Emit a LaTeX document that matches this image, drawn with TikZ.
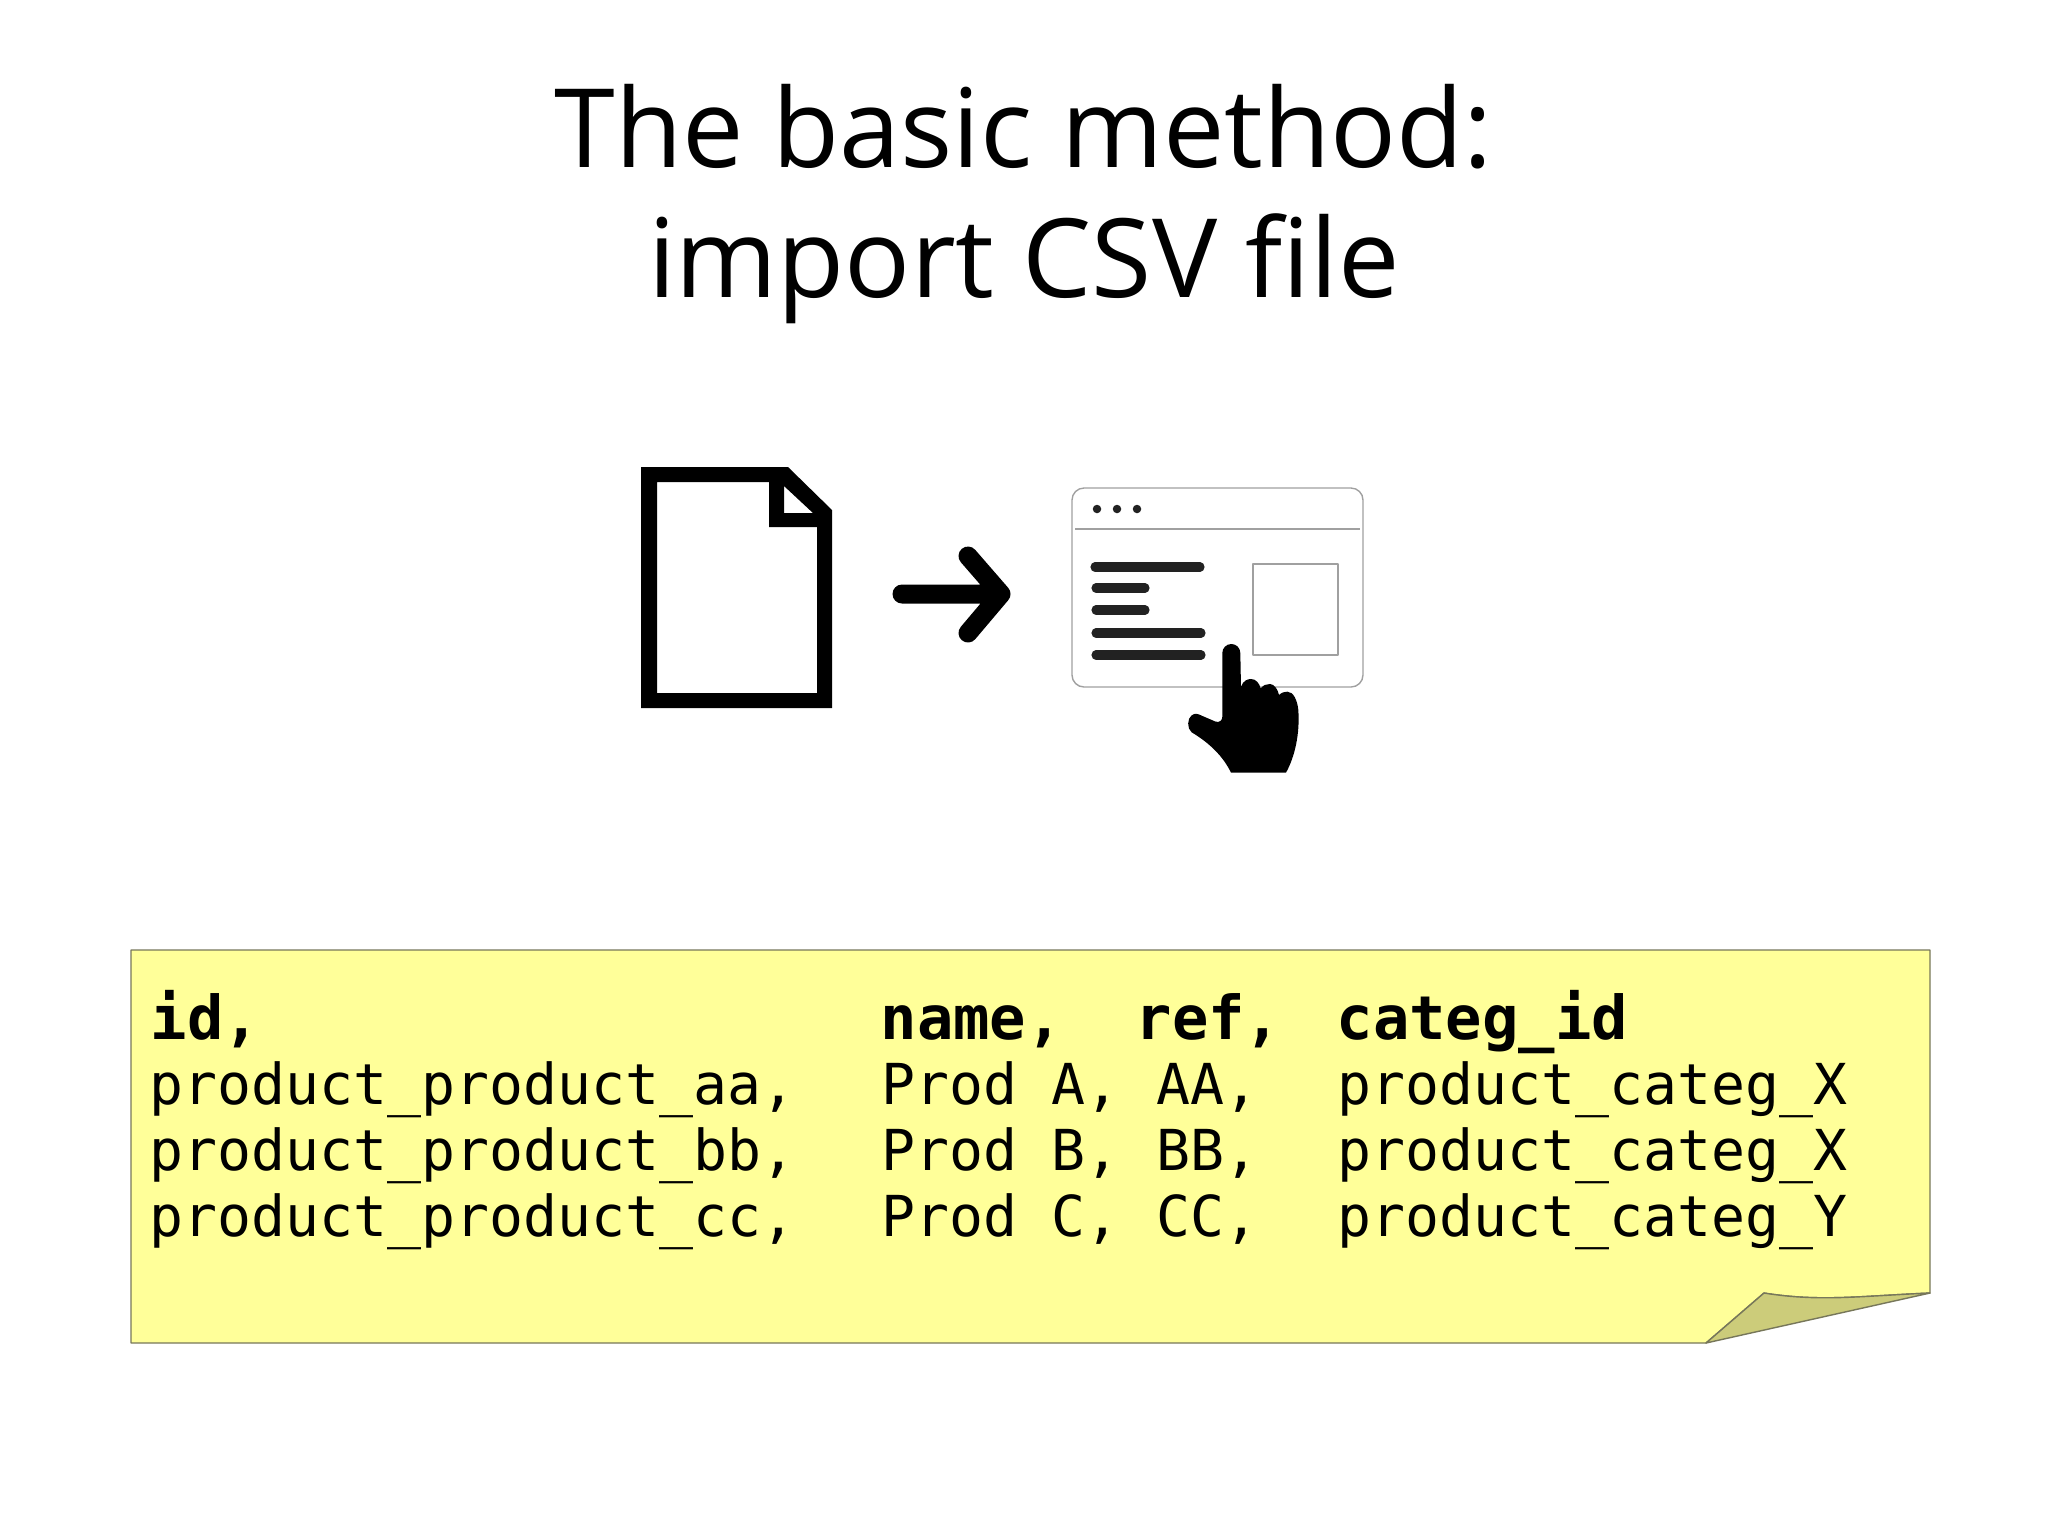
\documentclass[tikz,border=0pt]{standalone}
\usepackage{fontspec}
\setmainfont{Open Sans}
\setmonofont{DejaVu Sans Mono}
\definecolor{noteyellow}{HTML}{FFFF99}
\definecolor{notefold}{HTML}{CCCC7A}
\definecolor{noteline}{HTML}{77775A}
\definecolor{framegray}{HTML}{A0A0A0}
\definecolor{bardark}{HTML}{222222}
\tikzset{
  cell/.style={anchor=base west,inner sep=0pt,font=\fontsize{16.05}{18.8}\selectfont\ttfamily},
  headcell/.style={cell,font=\fontsize{17.2}{18.8}\selectfont\ttfamily\bfseries},
  frameline/.style={draw=framegray,line width=.4pt},
  textbar/.style={draw=bardark,line width=2.6pt,line cap=round}
}
\begin{document}
\begin{tikzpicture}[x=.01cm,y=-.01cm,line join=round]
  \useasboundingbox (0,0) rectangle (2048,1535);
  \node[align=center,font=\fontsize{31.15}{36.7}\selectfont] (title) at (1024,204) {The basic method:\\import CSV file};
  % file icon
  \fill[even odd rule] (641,467) -- (788,467) -- (832,510) -- (832,708) -- (641,708) -- cycle
    (657,482) -- (769,482) -- (769,527) -- (817,527) -- (817,693) -- (657,693) -- cycle
    (784,486) -- (784,513) -- (813,513) -- cycle;
  \coordinate (arrowstart) at (902,594);
  \coordinate (arrowtip) at (1001,594);
  \draw[line width=5.4pt,line cap=round] (arrowstart) -- (arrowtip) (968,556) -- (arrowtip) -- (968,633);
  % window
  \draw[frameline,rounded corners=1.2mm] (1072,488) rectangle (1363,687);
  \draw[frameline] (1075,529) -- (1360,529);
  \draw[frameline] (1253,564) rectangle (1338,655);
  \foreach \x in {1097,1117,1137}
    \fill[bardark] (\x,509) circle (.0425cm);
  \draw[textbar] (1095,567) -- (1200,567);
  \draw[textbar] (1096,588) -- (1145,588);
  \draw[textbar] (1096,610) -- (1145,610);
  \draw[textbar] (1096,633) -- (1201,633);
  \draw[textbar] (1096,655) -- (1201,655);
  % hand
  \begin{scope}[shift={(1050,470)},scale=.3333]
    \fill (517,549) .. controls (517,534) and (529,522) .. (544,522)
      .. controls (559,522) and (571,534) .. (571,549) -- (573,650)
      .. controls (580,632) and (592,627) .. (603,627)
      .. controls (618,627) and (628,640) .. (632,655)
      .. controls (640,645) and (650,642) .. (660,642)
      .. controls (674,642) and (684,660) .. (687,675)
      .. controls (695,667) and (705,665) .. (712,665)
      .. controls (730,665) and (742,690) .. (745,720)
      .. controls (750,790) and (735,860) .. (708,908)
      -- (543,908) .. controls (520,860) and (480,820) .. (425,787)
      .. controls (410,775) and (412,745) .. (425,736)
      .. controls (435,728) and (445,732) .. (455,737)
      -- (497,755) .. controls (508,758) and (517,752) .. (517,740) -- cycle;
  \end{scope}
  % note
  \draw[noteline,line width=.4pt,fill=noteyellow] (131,950) -- (1930,950) -- (1930,1293)
    .. controls (1860,1296) and (1820,1302) .. (1764,1293) -- (1706,1343) -- (131,1343) -- cycle;
  \draw[noteline,line width=.4pt,fill=notefold] (1706,1343) -- (1764,1293)
    .. controls (1820,1302) and (1860,1296) .. (1930,1293) -- cycle;
  \node[headcell] (id) at (150,1039) {id,};
  \node[headcell] (name) at (880,1039) {name,};
  \node[headcell] (ref) at (1135,1039) {ref,};
  \node[headcell] (categ) at (1336,1039) {categ\_id};
  \foreach \i/\y/\p/\q/\c in {aa/1104/A/AA/X,bb/1170/B/BB/X,cc/1236/C/CC/Y}{
    \node[cell] (id\i) at (149,\y) {product\_product\_\i,};
    \node[cell] (name\i) at (881,\y) {Prod \p,};
    \node[cell] (ref\i) at (1156,\y) {\q,};
    \node[cell] (categ\i) at (1337,\y) {product\_categ\_\c};
  }
\end{tikzpicture}
\end{document}
